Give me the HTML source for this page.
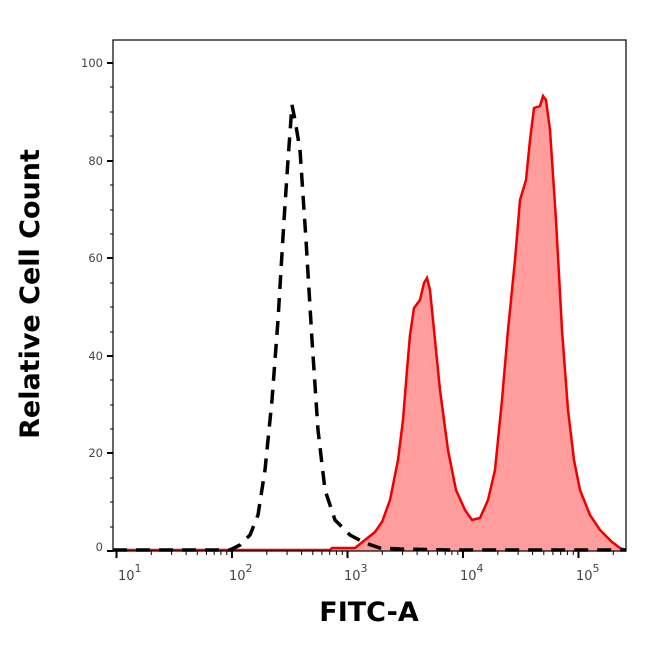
<!DOCTYPE html>
<html><head><style>body{margin:0;background:#fff}</style></head><body>
<svg width="646" height="641" xmlns="http://www.w3.org/2000/svg" font-family="DejaVu Sans, sans-serif">
<rect width="646" height="641" fill="#fff"/>
<path d="M113,551 L330,551 L332,548 L355,548 L365,540 L375,532 L382,522 L390,500 L398,460 L403,420 L407,370 L410,335 L414,308 L420,300 L424,283 L427,278 L430,290 L434,330 L440,390 L448,450 L456,490 L465,510 L472,520 L480,518 L488,500 L495,470 L502,400 L508,330 L515,260 L520,200 L526,180 L530,140 L534,108 L540,106 L543,96 L546,100 L550,130 L556,220 L562,330 L568,410 L574,460 L580,490 L590,515 L600,530 L612,542 L620,548 L626,550 L626,551 Z" fill="#ff9c9c" stroke="none"/>
<path d="M113,550 L330,550 L332,548 L355,548 L365,540 L375,532 L382,522 L390,500 L398,460 L403,420 L407,370 L410,335 L414,308 L420,300 L424,283 L427,278 L430,290 L434,330 L440,390 L448,450 L456,490 L465,510 L472,520 L480,518 L488,500 L495,470 L502,400 L508,330 L515,260 L520,200 L526,180 L530,140 L534,108 L540,106 L543,96 L546,100 L550,130 L556,220 L562,330 L568,410 L574,460 L580,490 L590,515 L600,530 L612,542 L620,548 L626,550" fill="none" stroke="#ee0000" stroke-width="2.5"/>
<path d="M113,550 L230,550 L240,545 L250,535 L258,515 L265,470 L272,400 L278,320 L284,220 L288,160 L292,105 L295,120 L300,150 L306,240 L312,340 L318,430 L325,490 L335,520 L350,535 L365,543 L380,548 L400,549 L450,550 L626,550" fill="none" stroke="#000" stroke-width="3.5" stroke-dasharray="14,9"/>
<rect x="113" y="40" width="513" height="511" fill="none" stroke="#000" stroke-width="1.2"/>
<g stroke="#000" stroke-width="2">
<line x1="107" y1="63" x2="113" y2="63"/><line x1="107" y1="161" x2="113" y2="161"/><line x1="107" y1="258" x2="113" y2="258"/><line x1="107" y1="356" x2="113" y2="356"/><line x1="107" y1="453" x2="113" y2="453"/><line x1="107" y1="551" x2="113" y2="551"/>
</g>
<g stroke="#000" stroke-width="1">
<line x1="110" y1="87" x2="113" y2="87"/><line x1="110" y1="112" x2="113" y2="112"/><line x1="110" y1="136" x2="113" y2="136"/>
<line x1="110" y1="185" x2="113" y2="185"/><line x1="110" y1="210" x2="113" y2="210"/><line x1="110" y1="234" x2="113" y2="234"/>
<line x1="110" y1="283" x2="113" y2="283"/><line x1="110" y1="307" x2="113" y2="307"/><line x1="110" y1="332" x2="113" y2="332"/>
<line x1="110" y1="380" x2="113" y2="380"/><line x1="110" y1="405" x2="113" y2="405"/><line x1="110" y1="429" x2="113" y2="429"/>
<line x1="110" y1="478" x2="113" y2="478"/><line x1="110" y1="502" x2="113" y2="502"/><line x1="110" y1="527" x2="113" y2="527"/>
</g>
<g font-size="11.5" fill="#444" text-anchor="end">
<text x="103" y="67">100</text><text x="103" y="165">80</text><text x="103" y="262">60</text><text x="103" y="360">40</text><text x="103" y="457">20</text><text x="103" y="551">0</text>
</g>
<g stroke="#000">
<line x1="116.5" y1="551" x2="116.5" y2="558" stroke-width="2"/><line x1="232" y1="551" x2="232" y2="558" stroke-width="2"/><line x1="347.5" y1="551" x2="347.5" y2="558" stroke-width="2"/><line x1="463" y1="551" x2="463" y2="558" stroke-width="2"/><line x1="578.5" y1="551" x2="578.5" y2="558" stroke-width="2"/>
</g>
<g stroke="#000" stroke-width="1">
<path d="M151.3,551v4M171.6,551v4M186.1,551v4M197.3,551v4M206.4,551v4M214.2,551v4M220.9,551v4M226.8,551v4
M266.8,551v4M287.1,551v4M301.6,551v4M312.8,551v4M321.9,551v4M329.7,551v4M336.4,551v4M342.3,551v4
M382.3,551v4M402.6,551v4M417.1,551v4M428.3,551v4M437.4,551v4M445.2,551v4M451.9,551v4M457.8,551v4
M497.8,551v4M518.1,551v4M532.6,551v4M543.8,551v4M552.9,551v4M560.7,551v4M567.4,551v4M573.3,551v4
M613.3,551v4"/>
</g>
<g font-size="13" fill="#444">
<text x="118" y="580">10<tspan dy="-8" font-size="11">1</tspan></text>
<text x="229" y="580">10<tspan dy="-8" font-size="11">2</tspan></text>
<text x="344" y="580">10<tspan dy="-8" font-size="11">3</tspan></text>
<text x="460" y="580">10<tspan dy="-8" font-size="11">4</tspan></text>
<text x="576" y="580">10<tspan dy="-8" font-size="11">5</tspan></text>
</g>
<text x="369" y="621" font-size="27" font-weight="bold" text-anchor="middle">FITC-A</text>
<text transform="translate(39,294) rotate(-90)" font-size="27" font-weight="bold" text-anchor="middle">Relative Cell Count</text>
</svg>
</body></html>
